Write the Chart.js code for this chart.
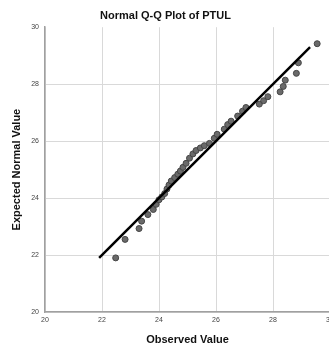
<!DOCTYPE html>
<html lang="en">
<head>
  <meta charset="UTF-8">
  <title>Normal Q-Q Plot of PTUL</title>
  <style>
    html, body { margin: 0; padding: 0; background: #fff; overflow: hidden; }
    #qq { display: block; }
  </style>
  <script src="https://cdn.jsdelivr.net/npm/chart.js"></script>
</head>
<body>
  <canvas id="qq" width="335" height="345"></canvas>
  <script>
    // observed values (x) and expected normal values (y), sorted
    const observed = [22.48, 22.81, 23.30, 23.39, 23.61, 23.80, 23.90, 24.00, 24.10, 24.20,
      24.28, 24.35, 24.43, 24.55, 24.66, 24.75, 24.84, 24.95, 25.07, 25.19,
      25.30, 25.45, 25.59, 25.77, 25.94, 26.04, 26.29, 26.41, 26.53, 26.76,
      26.93, 27.05, 27.52, 27.67, 27.82, 28.25, 28.36, 28.43, 28.82, 28.89, 29.55];
    const expected = [21.90, 22.55, 22.93, 23.19, 23.42, 23.60, 23.78, 23.94, 24.04, 24.16,
      24.32, 24.46, 24.60, 24.72, 24.84, 24.95, 25.08, 25.22, 25.40, 25.55,
      25.67, 25.76, 25.84, 25.92, 26.10, 26.24, 26.42, 26.58, 26.70, 26.88,
      27.05, 27.18, 27.30, 27.42, 27.56, 27.73, 27.92, 28.14, 28.38, 28.75, 29.42];
    const refLine = [21.9, 29.3];
    const xTicks = [20, 22, 24, 26, 28, 30];
    const yTicks = [20, 22, 24, 26, 28, 30];

    const points = observed.map((x, i) => ({ x: x, y: expected[i] }));
    const linePts = refLine.map(v => ({ x: v, y: v }));

    const tickFont = { family: 'Liberation Sans, Arial, sans-serif', size: 7 };
    const titleFont = { family: 'Liberation Sans, Arial, sans-serif', size: 11, weight: 'bold', lineHeight: 1 };

    new Chart(document.getElementById('qq'), {
      type: 'scatter',
      data: {
        datasets: [
          {
            type: 'line',
            data: linePts,
            borderColor: '#000',
            borderWidth: 2.5,
            pointRadius: 0,
            order: 0
          },
          {
            data: points,
            backgroundColor: '#6a6a6a',
            borderColor: '#454545',
            borderWidth: 1,
            pointRadius: 3,
            order: 1
          }
        ]
      },
      options: {
        responsive: false,
        animation: false,
        layout: { padding: { left: 0, right: 4, top: 0, bottom: 0 } },
        plugins: {
          legend: { display: false },
          tooltip: { enabled: false },
          title: {
            display: true,
            text: 'Normal Q-Q Plot of PTUL',
            color: '#111',
            font: { family: 'Liberation Sans, Arial, sans-serif', size: 11, weight: 'bold' },
            padding: { top: 9, bottom: 5 }
          }
        },
        scales: {
          x: {
            type: 'linear',
            min: 20,
            max: 30,
            afterBuildTicks: s => { s.ticks = xTicks.map(v => ({ value: v })); },
            afterFit: s => { s.height = 33; s.paddingRight = 0; s.paddingLeft = 0; },
            ticks: { color: '#444', font: tickFont, padding: 4 },
            grid: { color: '#d9d9d9', lineWidth: 1, drawTicks: false },
            border: { color: '#a0a0a0', width: 1.5 },
            title: { display: true, text: 'Observed Value', color: '#111', font: titleFont, padding: 0 }
          },
          y: {
            type: 'linear',
            min: 20,
            max: 30,
            afterBuildTicks: s => { s.ticks = yTicks.map(v => ({ value: v })); },
            afterFit: s => { s.width = 45; },
            ticks: { color: '#444', font: tickFont, padding: 6 },
            grid: {
              color: c => (c.tick && c.tick.value === 30) ? 'rgba(0,0,0,0)' : '#d9d9d9',
              lineWidth: 1,
              drawTicks: false
            },
            border: { color: '#a0a0a0', width: 1.5 },
            title: { display: true, text: 'Expected Normal Value', color: '#111', font: titleFont, padding: { top: 11.5, bottom: 0 } }
          }
        }
      }
    });
  </script>
</body>
</html>
